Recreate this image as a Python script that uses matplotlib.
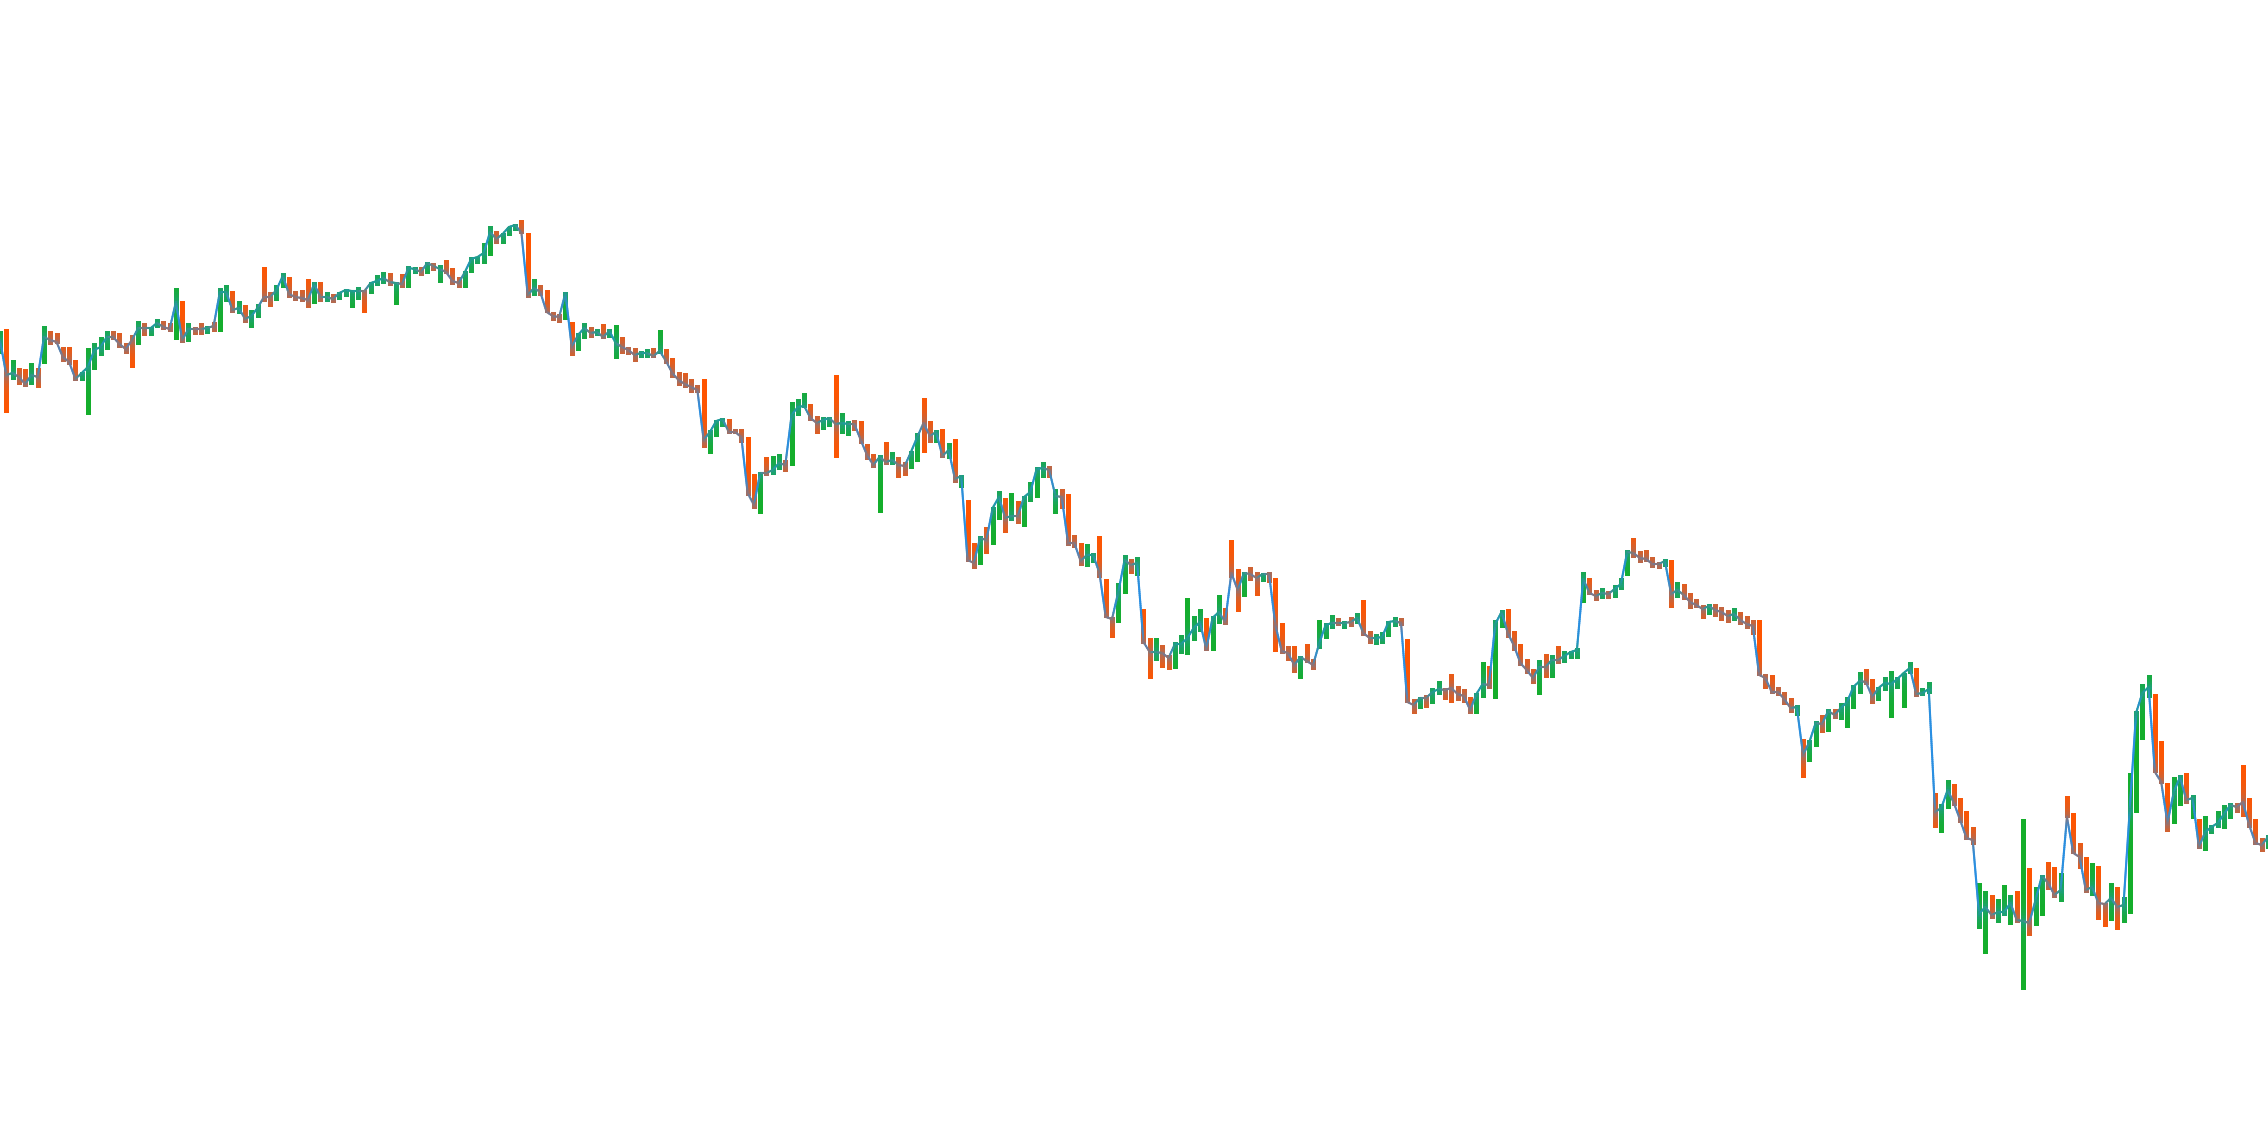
import numpy as np
import matplotlib
matplotlib.use('Agg')
import matplotlib.pyplot as plt
from matplotlib.collections import LineCollection
from matplotlib.colors import to_rgb

# closing prices, one per bar
close = [
    660, 625, 627, 623, 616, 625, 623, 663, 660, 658,
    643, 638, 621, 627, 633, 650, 653, 663, 663, 656,
    651, 660, 672, 672, 672, 677, 673, 671, 698, 660,
    671, 671, 671, 672, 674, 708, 708, 690, 692, 681,
    684, 692, 703, 703, 710, 724, 706,
    703, 702, 700, 716, 703, 703, 701, 707, 710, 709,
    709, 709, 717, 719, 722, 718, 717, 716, 732, 731,
    728, 737, 734, 731, 728, 719, 717, 728, 741, 743,
    747, 768, 761, 766, 773, 775, 767, 705, 712, 708,
    688, 684, 683, 707,
    653, 665, 672, 667, 668, 663, 669, 657, 653, 650,
    645, 647, 647, 644, 649, 639, 627, 620, 616, 613,
    610, 560, 568, 579, 581, 568, 568, 563, 507, 495,
    527, 527, 530, 537, 535, 585, 593, 594, 582, 577,
    580, 582, 576, 577, 576, 576, 560,
    545, 535, 543, 538, 540, 535, 534, 548, 563, 577,
    564, 568, 544, 550, 521, 524, 440, 437, 462, 460,
    492, 503, 482, 484, 484, 503, 508, 531, 532, 530,
    504, 503, 457, 457, 439, 445, 445, 427, 383, 381,
    408, 440, 435, 437,
    358, 348, 348, 347, 342, 356, 356, 362, 372, 378,
    351, 382, 388, 378, 427, 410, 427, 426, 422, 426,
    426, 375, 349, 347, 335, 343, 339, 335, 357, 375,
    377, 377, 377, 378, 382, 367, 362, 362, 363, 378,
    379, 377, 298, 295, 302, 302,
    308, 311, 310, 312, 306, 304, 290, 306, 316, 315,
    376, 388, 367, 354, 337, 330, 322, 333, 333, 340,
    340, 344, 348, 350, 421, 407, 404, 407, 406, 411,
    416, 448, 447, 442, 441, 436, 436, 439, 406, 410,
    405, 398, 395, 391, 394,
    390, 388, 384, 386, 380, 376, 374,
    325, 322, 308, 308, 301, 292, 293, 245, 258, 277,
    276, 289, 285, 292, 298, 313, 319, 318, 303, 312,
    317, 316, 321, 327, 332, 306, 307, 311, 188, 192,
    210, 197, 180, 162, 160, 86,
    93, 85, 88, 88, 97, 80, 79, 77, 100, 124,
    117, 105, 110, 183, 147, 143, 110, 113, 97, 96,
    102, 93, 95, 191, 287, 307, 313, 228, 218, 177,
    208, 223, 200, 202, 153, 168, 173, 177, 186, 195,
    193, 198, 175, 157, 155, 163,
]

high = [
    669, 671, 640, 632, 631, 637, 632, 674, 669, 667,
    653, 653, 640, 628, 652, 657, 663, 669, 669, 667,
    657, 665, 679, 677, 673, 681, 679, 677, 712, 699,
    677, 673, 677, 674, 678, 712, 715, 709, 699, 695,
    690, 696, 733, 708, 715, 727, 723,
    709, 710, 721, 718, 718, 708, 706, 708, 711, 710,
    713, 710, 718, 725, 728, 727, 718, 726, 734, 733,
    733, 738, 737, 735, 740, 732, 723, 729, 743, 743,
    757, 774, 769, 767, 773, 776, 780, 767, 721, 715,
    710, 688, 686, 708,
    678, 667, 677, 673, 671, 676, 671, 675, 663, 653,
    652, 649, 651, 652, 670, 651, 642, 628, 627, 621,
    615, 621, 570, 580, 582, 581, 571, 571, 563, 526,
    528, 543, 544, 546, 540, 598, 601, 607, 596, 584,
    583, 583, 625, 587, 579, 580, 579,
    556, 546, 545, 558, 548, 543, 538, 549, 567, 602,
    579, 570, 571, 557, 561, 525, 500, 457, 464, 473,
    493, 509, 502, 507, 499, 504, 518, 533, 538, 534,
    511, 511, 506, 465, 457, 456, 447, 464, 421, 383,
    417, 445, 441, 443,
    391, 362, 362, 355, 345, 358, 365, 402, 384, 391,
    382, 384, 405, 392, 460, 431, 428, 433, 428, 427,
    428, 422, 377, 354, 354, 344, 356, 341, 380, 377,
    385, 382, 379, 383, 387, 400, 369, 366, 368, 379,
    383, 382, 361, 301, 303, 305,
    312, 319, 312, 326, 314, 311, 303, 307, 338, 334,
    380, 390, 391, 369, 356, 341, 331, 340, 346, 345,
    354, 349, 349, 352, 428, 422, 410, 412, 409, 415,
    422, 450, 462, 449, 450, 443, 438, 441, 440, 418,
    416, 407, 401, 395, 396,
    396, 393, 390, 392, 388, 384, 380,
    380, 326, 325, 313, 308, 302, 295, 261, 260, 279,
    285, 291, 291, 297, 303, 315, 328, 331, 321, 313,
    323, 329, 323, 327, 338, 332, 312, 318, 207, 196,
    220, 216, 202, 189, 173, 117,
    109, 105, 101, 115, 105, 109, 181, 132, 113, 125,
    138, 133, 127, 204, 187, 157, 143, 137, 134, 97,
    117, 113, 103, 227, 289, 316, 325, 306, 259, 217,
    223, 225, 227, 205, 181, 184, 175, 189, 195, 197,
    197, 235, 202, 181, 162, 165,
]

low = [
    647, 588, 621, 616, 614, 616, 613, 637, 656, 657,
    639, 636, 620, 620, 586, 631, 645, 651, 661, 653,
    647, 633, 656, 665, 665, 673, 671, 669, 661, 658,
    659, 666, 666, 667, 669, 669, 699, 688, 687, 678,
    673, 683, 699, 694, 700, 713, 703,
    700, 699, 693, 697, 699, 699, 698, 701, 704, 693,
    701, 688, 707, 715, 717, 715, 696, 713, 713, 727,
    725, 727, 730, 718, 727, 716, 713, 713, 728, 737,
    737, 745, 757, 757, 765, 770, 767, 703, 705, 705,
    688, 680, 678, 681,
    645, 650, 662, 663, 665, 662, 663, 642, 647, 646,
    639, 643, 643, 643, 647, 637, 623, 615, 613, 608,
    608, 553, 547, 564, 574, 567, 567, 558, 505, 492,
    487, 525, 526, 531, 529, 535, 585, 593, 580, 567,
    571, 574, 543, 567, 565, 570, 557,
    541, 533, 488, 536, 536, 523, 525, 532, 539, 548,
    558, 558, 543, 542, 518, 513, 439, 432, 436, 447,
    456, 481, 468, 480, 477, 474, 499, 503, 523, 523,
    487, 492, 455, 453, 435, 434, 438, 423, 383, 363,
    378, 407, 427, 425,
    357, 322, 340, 333, 331, 332, 347, 346, 360, 369,
    350, 350, 377, 376, 423, 389, 404, 420, 405, 419,
    418, 349, 347, 340, 328, 322, 338, 331, 352, 362,
    372, 375, 372, 374, 377, 365, 357, 356, 357, 364,
    374, 375, 298, 287, 292, 293,
    297, 306, 301, 298, 300, 298, 287, 287, 303, 312,
    302, 373, 363, 350, 335, 327, 317, 306, 323, 323,
    337, 338, 342, 342, 398, 406, 400, 402, 402, 403,
    411, 425, 443, 438, 439, 433, 432, 434, 393, 403,
    401, 392, 393, 382, 386,
    384, 380, 378, 380, 376, 372, 366,
    325, 312, 307, 305, 296, 288, 285, 223, 239, 254,
    268, 269, 282, 281, 273, 292, 307, 316, 297, 300,
    310, 283, 312, 293, 327, 304, 305, 307, 173, 168,
    192, 195, 178, 161, 156, 72,
    47, 82, 78, 85, 76, 78, 11, 65, 75, 85,
    111, 103, 99, 183, 147, 132, 108, 105, 81, 74,
    80, 71, 78, 87, 188, 261, 303, 228, 217, 169,
    177, 195, 197, 182, 152, 150, 167, 173, 172, 182,
    188, 184, 173, 156, 149, 152,
]

# 1 = rising bar (green), 0 = falling bar (orange)
up = [
    1, 0, 1, 0, 0, 1, 0, 1, 0, 0,
    0, 0, 0, 1, 1, 1, 1, 1, 0, 0,
    0, 0, 1, 0, 1, 1, 0, 0, 1, 0,
    1, 0, 0, 1, 0, 1, 1, 0, 1, 0,
    1, 1, 0, 0, 1, 1, 0,
    0, 0, 0, 1, 0, 1, 0, 1, 1, 1,
    1, 0, 1, 1, 1, 0, 1, 0, 1, 1,
    0, 1, 0, 1, 0, 0, 0, 1, 1, 1,
    1, 1, 0, 1, 1, 1, 0, 0, 1, 0,
    0, 0, 0, 1,
    0, 1, 1, 0, 1, 0, 1, 1, 0, 0,
    0, 1, 1, 0, 1, 0, 0, 0, 0, 0,
    0, 0, 1, 1, 1, 0, 0, 0, 0, 0,
    1, 0, 1, 1, 0, 1, 1, 1, 0, 0,
    1, 1, 0, 1, 1, 0, 0,
    0, 0, 1, 0, 1, 0, 0, 1, 1, 0,
    0, 1, 0, 1, 0, 1, 0, 0, 1, 0,
    1, 1, 0, 1, 0, 1, 1, 1, 1, 0,
    1, 0, 0, 0, 0, 1, 1, 0, 0, 0,
    1, 1, 0, 1,
    0, 0, 1, 0, 0, 1, 1, 1, 1, 1,
    0, 1, 1, 0, 0, 0, 1, 0, 0, 1,
    0, 0, 0, 0, 0, 1, 0, 0, 1, 1,
    1, 0, 1, 0, 1, 0, 0, 1, 1, 1,
    1, 0, 0, 0, 1, 0,
    1, 1, 0, 0, 0, 0, 0, 1, 1, 0,
    1, 1, 0, 0, 0, 0, 0, 1, 0, 1,
    0, 1, 1, 1, 1, 0, 0, 1, 0, 1,
    1, 1, 0, 0, 0, 0, 0, 1, 0, 1,
    0, 0, 0, 0, 1,
    0, 0, 0, 1, 0, 0, 0,
    0, 0, 0, 0, 0, 0, 1, 0, 1, 1,
    0, 1, 0, 1, 1, 1, 1, 0, 0, 1,
    1, 1, 1, 1, 1, 0, 1, 1, 0, 1,
    1, 0, 0, 0, 0, 1,
    1, 0, 1, 1, 1, 0, 1, 0, 1, 1,
    0, 0, 1, 0, 0, 0, 0, 1, 0, 0,
    1, 0, 1, 1, 1, 1, 1, 0, 0, 0,
    1, 1, 0, 1, 0, 1, 1, 1, 1, 1,
    0, 0, 0, 0, 0, 1,
]

GREEN = np.array(to_rgb('#14ae2a'))
ORANGE = np.array(to_rgb('#ff5500'))
BLUE = np.array(to_rgb('#2a8fe2'))

close = np.array(close, float)
high = np.array(high, float)
low = np.array(low, float)
up = np.array(up)
n = len(close)
x = np.arange(n)

fig = plt.figure(figsize=(22.68, 11.48), dpi=100)
ax = fig.add_axes([0, 0, 1, 1])
ax.set_xlim(0, n - 1)
ax.set_ylim(-148, 1000)
ax.axis('off')

base = np.where(up[:, None] == 1, GREEN, ORANGE)
muted = 0.55 * base + 0.45 * BLUE

# pixel positions, used only to size the colour fades
pix = ax.transData.transform(np.column_stack([x, close]))
ppu = ax.transData.transform([(0, 1)])[0][1] - ax.transData.transform([(0, 0)])[0][1]

# close line: tinted near each bar, fading to blue on long moves
line_segs, line_cols = [], []
for i in range(n - 1):
    length = np.hypot(*(pix[i + 1] - pix[i]))
    k = max(2, int(length / 2))
    t = np.linspace(0, 1, k + 1)
    xs = x[i] + (x[i + 1] - x[i]) * t
    ys = close[i] + (close[i + 1] - close[i]) * t
    for j in range(k):
        tm = (t[j] + t[j + 1]) / 2
        d = min(tm, 1 - tm) * length
        cv = (1 - tm) * muted[i] + tm * muted[i + 1]
        b = 1 - np.exp(-d / 7)
        line_segs.append([(xs[j], ys[j]), (xs[j + 1], ys[j + 1])])
        line_cols.append(np.clip((1 - b) * cv + b * BLUE, 0, 1))

# high-low bars: saturated at the ends, softer where the line crosses
bar_segs, bar_cols = [], []
for i in range(n):
    span = (high[i] - low[i]) * ppu
    k = max(2, int(span / 1.5))
    ys = np.linspace(low[i], high[i], k + 1)
    for j in range(k):
        ym = (ys[j] + ys[j + 1]) / 2
        w = np.exp(-abs(ym - close[i]) * ppu / 9)
        bar_segs.append([(x[i], ys[j]), (x[i], ys[j + 1])])
        bar_cols.append(np.clip(w * muted[i] + (1 - w) * base[i], 0, 1))

ax.add_collection(LineCollection(bar_segs, colors=bar_cols, linewidths=2.2,
                                 capstyle='butt', antialiased=False, zorder=2))
ax.add_collection(LineCollection(line_segs, colors=line_cols, linewidths=1.5,
                                 capstyle='round', zorder=3))

fig.savefig('out.png', dpi=100, facecolor='white')
